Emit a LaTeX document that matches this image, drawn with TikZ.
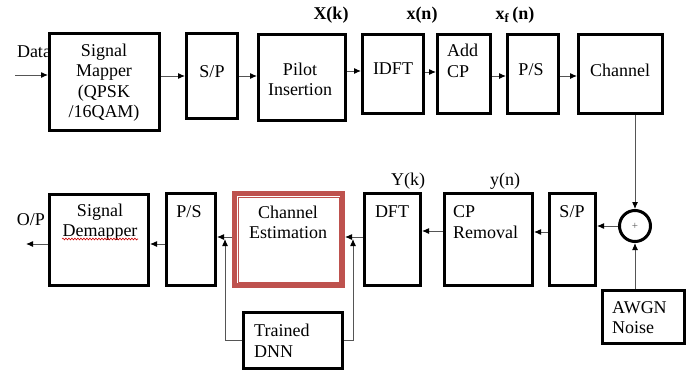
\documentclass[tikz,border=0pt]{standalone}
\usepackage{fontspec}
\setmainfont{Liberation Serif}
\usetikzlibrary{arrows.meta,decorations.pathmorphing}
\definecolor{estred}{RGB}{190,82,78}
\definecolor{wiregray}{RGB}{85,85,85}

\tikzset{
  blk/.style={draw, line width=3pt, fill=white, inner sep=0pt},
  txt/.style={inner sep=0pt, align=center, font=\fontsize{18}{20.5}\selectfont},
  wire/.style={->, draw=wiregray, line width=1pt},
}

\begin{document}
\begin{tikzpicture}[x=1pt, y=-1pt, >={Latex[length=7pt,width=6pt,color=black]}]
      \useasboundingbox (0,0) rectangle (694,372);

      % transmitter
      \node[txt] (data) at (34,52) {Data};
      \node[blk, minimum width=110, minimum height=97] (map) at (104.5,82) {};
      \node[blk, minimum width=51, minimum height=85] (sp1) at (212,76) {};
      \node[blk, minimum width=87, minimum height=86] (pilot) at (302,77.5) {};
      \node[blk, minimum width=61, minimum height=79] (idft) at (393,74) {};
      \node[blk, minimum width=53, minimum height=79] (addcp) at (464,74) {};
      \node[blk, minimum width=51, minimum height=79] (ps1) at (533,74) {};
      \node[blk, minimum width=84, minimum height=79] (chan) at (620.5,74) {};

      \node[txt] (map-t) at (104,82.5) {Signal\\Mapper\\(QPSK\\/16QAM)};
      \node[txt] (sp1-t) at (212,72) {S/P};
      \node[txt] (pilot-t) at (300,79.5) {Pilot\\Insertion};
      \node[txt] (idft-t) at (393,69) {IDFT};
      \node[txt, align=left, anchor=west] (addcp-t) at (447,61) {Add\\CP};
      \node[txt] (ps1-t) at (531,70) {P/S};
      \node[txt] (chan-t) at (620,70) {Channel};

      \node[txt] (Xk) at (331,15) {\textbf{X(k)}};
      \node[txt] (xn) at (422,15) {\textbf{x(n)}};
      \node[txt] (xfn) at (515,15) {\textbf{x\textsubscript{f}\,(n)}};

      \coordinate (in) at (15,75);
      \draw[wire] (in) -- (in -| map.west);
      \draw[wire] (map.east |- sp1.west) -- (sp1.west);
      \draw[wire] (sp1.east) -- (sp1.east -| pilot.west);
      \draw[wire] ([yshift=3pt]pilot.east |- idft.west) -- ([yshift=3pt]idft.west);
      \draw[wire] ([yshift=2pt]idft.east) -- ([yshift=2pt]addcp.west);
      \draw[wire] ([yshift=-2pt]addcp.east) -- ([yshift=-2pt]ps1.west);
      \draw[wire] ([yshift=-2pt]ps1.east) -- ([yshift=-2pt]chan.west);

      % receiver
      \node[blk, minimum width=99, minimum height=91] (dem) at (99,240) {};
      \node[blk, minimum width=49, minimum height=92] (ps2) at (191,239.5) {};
      \node[draw=estred, line width=5pt, inner sep=0pt, minimum width=108, minimum height=92] (est) at (288.5,239.5) {};
      \draw[estred, line width=1pt] ([shift={(6,6)}]est.north west) rectangle ([shift={(-6,-6)}]est.south east);
      \node[blk, minimum width=56, minimum height=92] (dft) at (392.5,239.5) {};
      \node[blk, minimum width=88, minimum height=92] (cpr) at (488.5,239.5) {};
      \node[blk, minimum width=46, minimum height=92] (sp2) at (572.5,239.5) {};
      \node[draw, line width=3pt, circle, minimum size=31, inner sep=0pt] (sum) at (635,226) {};
      \node[blk, minimum width=82, minimum height=53] (awgn) at (643.5,317) {};
      \node[blk, minimum width=99, minimum height=56] (dnn) at (293,340.5) {};

      \node[txt] (dem-t) at (100,222) {Signal\\Demapper};
      \draw[red!80!black, line width=0.6pt, decorate, decoration={snake, amplitude=0.9pt, segment length=3pt}] (62,239) -- (138,239);
      \node[txt] (op) at (31,220) {O/P};
      \node[txt] (ps2-t) at (189,212) {P/S};
      \node[txt] (est-t) at (288,222.5) {Channel\\Estimation};
      \node[txt] (dft-t) at (392,212) {DFT};
      \node[txt, align=left, anchor=west] (cpr-t) at (453,222) {CP\\Removal};
      \node[txt] (sp2-t) at (572,212) {S/P};
      \node[font=\fontsize{11}{12}\selectfont, text=wiregray] (plus) at (sum) {+};
      \node[txt, align=left, anchor=west] (awgn-t) at (612,317.5) {AWGN\\Noise};
      \node[txt, align=left, anchor=west] (dnn-t) at (254,341) {Trained\\DNN};

      \node[txt] (Yk) at (408,181) {Y(k)};
      \node[txt] (yn) at (505,181) {y(n)};

      \draw[wire] (chan.south -| sum) -- (sum.north);
      \draw[wire] (awgn.north -| sum) -- (sum.south);
      \draw[wire] (sum.west) -- (sum.west -| sp2.east);
      \draw[wire] ([yshift=7.5pt]sp2.west) -- ([yshift=7.5pt]sp2.west -| cpr.east);
      \draw[wire] ([yshift=8.5pt]cpr.west) -- ([yshift=8.5pt]cpr.west -| dft.east);
      \draw[wire] ([yshift=2.5pt]dft.west) -- ([yshift=2.5pt]dft.west -| est.east);
      \draw[wire] ([yshift=2.5pt]est.west) -- ([yshift=2.5pt]est.west -| ps2.east);

      \coordinate (out) at (26,244);
      \draw[wire] (ps2.west |- out) -- (dem.east |- out);
      \draw[wire] (dem.west |- out) -- (out);

      \coordinate (j1) at (225,239);
      \coordinate (j2) at (353,239);
      \draw[wire] (dnn.west) -| (j1);
      \draw[wire] (dnn.east) -| (j2);
    \end{tikzpicture}
\end{document}
